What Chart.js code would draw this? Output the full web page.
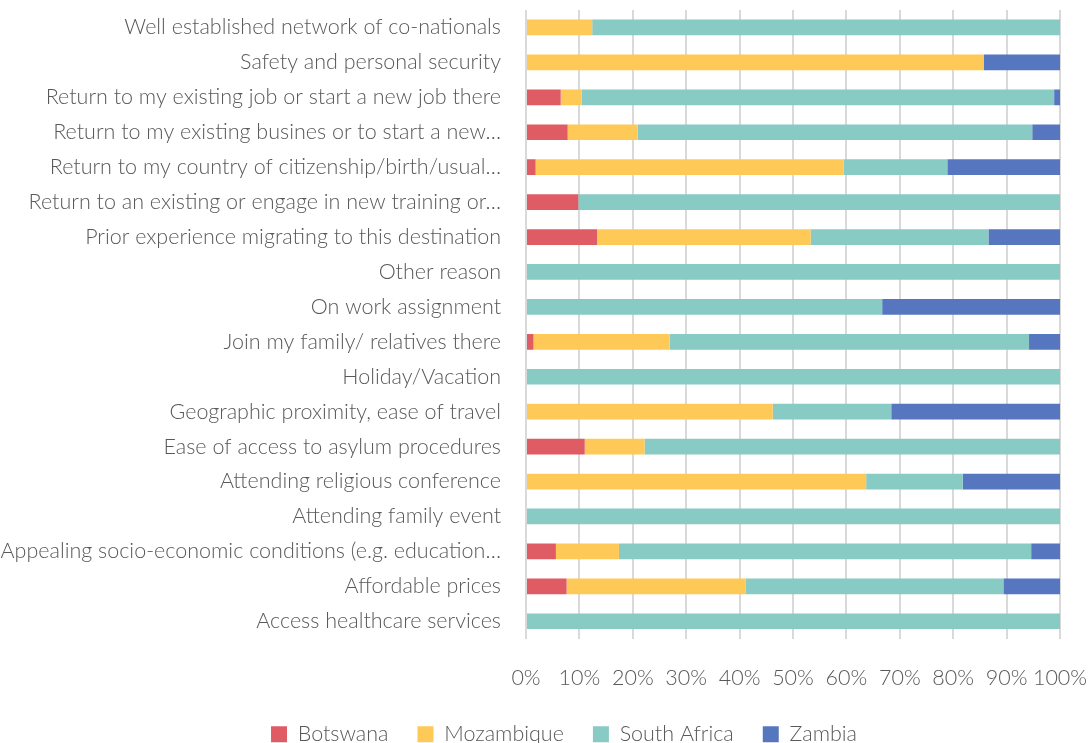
<!DOCTYPE html>
<html>
<head>
<meta charset="utf-8">
<script src="https://cdn.jsdelivr.net/npm/chart.js@4/dist/chart.umd.min.js"></script>
<style>
  html, body { margin: 0; padding: 0; background: #fff; }
  #wrap { width: 1089px; height: 743px; }
</style>
</head>
<body>
<div id="wrap"><canvas id="reasons"></canvas></div>
<script>
const reasons = [
  'Well established network of co-nationals',
  'Safety and personal security',
  'Return to my existing job or start a new job there',
  'Return to my existing busines or to start a new…',
  'Return to my country of citizenship/birth/usual…',
  'Return to an existing or engage in new training or…',
  'Prior experience migrating to this destination',
  'Other reason',
  'On work assignment',
  'Join my family/ relatives there',
  'Holiday/Vacation',
  'Geographic proximity, ease of travel',
  'Ease of access to asylum procedures',
  'Attending religious conference',
  'Attending family event',
  'Appealing socio-economic conditions (e.g. education…',
  'Affordable prices',
  'Access healthcare services'
];

// share of respondents (%) per destination country
const botswana    = [0, 0, 6.5, 7.8, 1.8, 9.8, 13.3, 0, 0, 1.4, 0, 0, 11.0, 0, 0, 5.6, 7.6, 0];
const mozambique  = [12.4, 85.7, 3.9, 13.1, 57.7, 0, 40.0, 0, 0, 25.5, 0, 46.2, 11.2, 63.7, 0, 11.8, 33.5, 0];
const southAfrica = [87.6, 0, 88.5, 73.9, 19.4, 90.2, 33.3, 100, 66.7, 67.3, 100, 22.2, 77.8, 18.1, 100, 77.2, 48.3, 100];
const zambia      = [0, 14.3, 1.1, 5.2, 21.1, 0, 13.4, 0, 33.3, 5.8, 0, 31.6, 0, 18.2, 0, 5.4, 10.6, 0];

const textColor = '#595959';
const font = { family: 'Lato', weight: '300', size: 21.5 };

const series = (label, data, color) => ({
  label: label,
  data: data,
  backgroundColor: color,
  borderWidth: 0,
  barPercentage: 0.9,
  categoryPercentage: 0.5
});

// nudge the legend a little to the right of the canvas centre
const legendShift = {
  id: 'legendShift',
  afterLayout(chart) {
    chart.legend.left += 34;
    chart.legend.right += 34;
  }
};

new Chart(document.getElementById('reasons'), {
  type: 'bar',
  data: {
    labels: reasons,
    datasets: [
      series('Botswana', botswana, '#e05c65'),
      series('Mozambique', mozambique, '#ffc957'),
      series('South Africa', southAfrica, '#88cac4'),
      series('Zambia', zambia, '#5776c0')
    ]
  },
  plugins: [legendShift],
  options: {
    indexAxis: 'y',
    responsive: true,
    maintainAspectRatio: false,
    animation: false,
    layout: { padding: { top: 10, right: 29, bottom: -12, left: 0 } },
    plugins: {
      tooltip: { enabled: false },
      legend: {
        position: 'bottom',
        labels: {
          color: textColor,
          font: font,
          boxWidth: 16,
          boxHeight: 16,
          padding: 29
        }
      }
    },
    scales: {
      x: {
        stacked: true,
        min: 0,
        max: 100,
        ticks: {
          stepSize: 10,
          autoSkip: false,
          color: textColor,
          font: font,
          padding: 26,
          maxRotation: 0,
          callback: (v) => v + '%'
        },
        grid: { color: '#d9d9d9', lineWidth: 2, drawTicks: false },
        border: { display: false },
        afterFit: (axis) => {
          axis.paddingLeft = 0;
          axis.paddingRight = 0;
          axis.height -= 22;
        }
      },
      y: {
        stacked: true,
        ticks: {
          color: textColor,
          font: font,
          padding: 25,
          autoSkip: false
        },
        grid: { display: false, drawTicks: false },
        border: { display: false },
        afterFit: (axis) => {
          axis.width = 526;
          axis.paddingTop = 0;
          axis.paddingBottom = 0;
        }
      }
    }
  }
});
</script>
</body>
</html>
